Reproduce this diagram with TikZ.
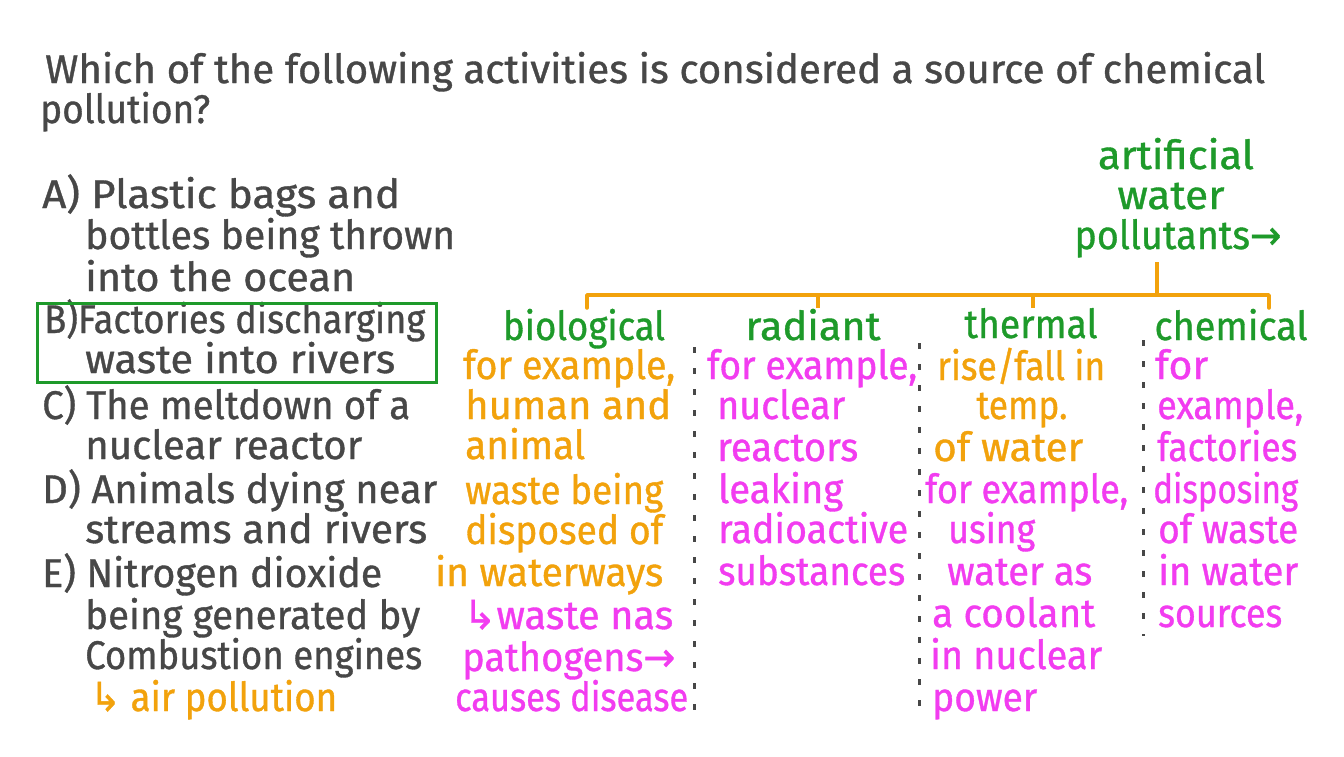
\documentclass[tikz,border=0pt]{standalone}
\usepackage{fontspec}
\usepackage{graphicx}
\setmainfont{Fira Sans}[FakeBold=0.9]
\newfontfamily\symf{DejaVu Sans}[FakeBold=0.9]
\definecolor{hgray}{HTML}{474747}
\definecolor{hgreen}{HTML}{1E9A2A}
\definecolor{horange}{HTML}{F2A20C}
\definecolor{hmag}{HTML}{F23CF0}
\newcommand{\hwfont}{\fontsize{40}{41}\selectfont}
\newcommand{\hra}{{\symf →}}
\newcommand{\hka}{{\symf ↳}}
\newsavebox\fitbx
\newcommand{\fw}[2]{\sbox\fitbx{#2}\scalebox{\fpeval{#1*65536/\number\wd\fitbx}}[1]{\usebox\fitbx}}
\tikzset{
  ln/.style={anchor=base west, inner sep=0pt, font=\hwfont},
  lc/.style={anchor=base, inner sep=0pt, font=\hwfont},
  gr/.style={text=hgray},
  gn/.style={text=hgreen},
  orn/.style={text=horange},
  mg/.style={text=hmag},
  tree/.style={draw=horange, line width=3.5pt},
  sep/.style={draw=hgray, line width=3pt, dash pattern=on 6pt off 15pt},
}
\begin{document}
\begin{tikzpicture}[x=1pt,y=-1pt]
\useasboundingbox[fill=white] (0,0) rectangle (1344,756);
% question
\node[ln,gr] (q1) at (45,83) {\fw{1220}{Which of the following activities is considered a source of chemical}};
\node[ln,gr] (q2) at (40,123) {\fw{170}{pollution?}};
% options
\node[ln,gr] (a1) at (42,208) {\fw{358}{A) Plastic bags and}};
\node[ln,gr] (a2) at (85,249) {\fw{370}{bottles being thrown}};
\node[ln,gr] (a3) at (85,291) {\fw{270}{into the ocean}};
\node[ln,gr] (b1) at (44,333) {\fw{381}{B)Factories discharging}};
\node[ln,gr] (b2) at (85,373) {\fw{310}{waste into rivers}};
\draw[draw=hgreen, line width=3pt] (37,303) rectangle (436,382);
\node[ln,gr] (c1) at (42,419) {\fw{368}{C) The meltdown of a}};
\node[ln,gr] (c2) at (85,459) {\fw{277}{nuclear reactor}};
\node[ln,gr] (d1) at (42,503) {\fw{395}{D) Animals dying near}};
\node[ln,gr] (d2) at (85,543) {\fw{342}{streams and rivers}};
\node[ln,gr] (e1) at (42,587) {\fw{340}{E) Nitrogen dioxide}};
\node[ln,gr] (e2) at (85,629) {\fw{335}{being generated by}};
\node[ln,gr] (e3) at (85,669) {\fw{337}{Combustion engines}};
\node[ln,orn] (e4) at (90,711) {\fw{247}{\hka\ air pollution}};
% root
\node[lc,gn] (r1) at (1176,169) {\fw{156}{artificial}};
\node[lc,gn] (r2) at (1171,209) {\fw{107}{water}};
\node[lc,gn] (r3) at (1178,249) {\fw{207}{pollutants\hra}};
% headers
\node[lc,gn] (hb) at (584,340) {\fw{162}{biological}};
\node[lc,gn] (hr) at (813,340) {\fw{135}{radiant}};
\node[lc,gn] (ht) at (1031,338) {\fw{133}{thermal}};
\node[lc,gn] (hc) at (1231,340) {\fw{153}{chemical}};
% tree
\coordinate (top) at (1157,262);
\coordinate (bar) at (1157,295);
\coordinate (tb) at (587,295);
\coordinate (tr) at (818,295);
\coordinate (tt) at (1033,295);
\coordinate (tc) at (1269,295);
\coordinate (db) at (587,308);
\coordinate (dr) at (818,308);
\coordinate (dt) at (1033,308);
\coordinate (dc) at (1269,308);
\draw[tree] (top) -- (bar);
\draw[tree, line cap=round, line join=round] (db) -- (tb) -- (tc) -- (dc);
\draw[tree] (tr) -- (dr);
\draw[tree] (tt) -- (dt);
% biological column
\node[ln,orn] (b01) at (463,379) {\fw{212}{for example,}};
\node[ln,orn] (b02) at (465,419) {\fw{206}{human and}};
\node[ln,orn] (b03) at (465,459) {\fw{120}{animal}};
\node[ln,orn] (b04) at (465,504) {\fw{198}{waste being}};
\node[ln,orn] (b05) at (465,544) {\fw{198}{disposed of}};
\node[ln,orn] (b06) at (435,586) {\fw{228}{in waterways}};
\node[ln,mg] (b07) at (463,629) {\fw{210}{\hka waste nas}};
\node[ln,mg] (b08) at (462,671) {\fw{213}{pathogens\hra}};
\node[ln,mg] (b09) at (455,711) {\fw{233}{causes disease}};
% radiant column
\node[ln,mg] (r01) at (707,379) {\fw{210}{for example,}};
\node[ln,mg] (r02) at (717,419) {\fw{128}{nuclear}};
\node[ln,mg] (r03) at (717,461) {\fw{141}{reactors}};
\node[ln,mg] (r04) at (718,503) {\fw{125}{leaking}};
\node[ln,mg] (r05) at (718,543) {\fw{190}{radioactive}};
\node[ln,mg] (r06) at (718,585) {\fw{187}{substances}};
% thermal column
\node[ln,orn] (t01) at (937,380) {\fw{168}{rise/fall in}};
\node[lc,orn] (t02) at (1022,419) {\fw{91}{temp.}};
\node[ln,orn] (t03) at (933,461) {\fw{150}{of water}};
\node[ln,mg] (t04) at (925,503) {\fw{203}{for example,}};
\node[ln,mg] (t05) at (948,543) {\fw{87}{using}};
\node[ln,mg] (t06) at (947,585) {\fw{145}{water as}};
\node[ln,mg] (t07) at (932,627) {\fw{163}{a coolant}};
\node[ln,mg] (t08) at (930,669) {\fw{172}{in nuclear}};
\node[ln,mg] (t09) at (932,711) {\fw{105}{power}};
% chemical column
\node[ln,mg] (c01) at (1155,379) {\fw{53}{for}};
\node[ln,mg] (c02) at (1157,419) {\fw{146}{example,}};
\node[ln,mg] (c03) at (1157,461) {\fw{140}{factories}};
\node[ln,mg] (c04) at (1153,503) {\fw{145}{disposing}};
\node[ln,mg] (c05) at (1158,543) {\fw{140}{of waste}};
\node[ln,mg] (c06) at (1158,585) {\fw{140}{in water}};
\node[ln,mg] (c07) at (1158,627) {\fw{124}{sources}};
% separators
\coordinate (s1a) at (694,347); \coordinate (s1b) at (694,712);
\coordinate (s2a) at (919,343); \coordinate (s2b) at (919,716);
\coordinate (s3a) at (1143,340); \coordinate (s3b) at (1143,636);
\draw[sep] (s1a) -- (s1b);
\draw[sep] (s2a) -- (s2b);
\draw[sep] (s3a) -- (s3b);
\end{tikzpicture}
\end{document}
